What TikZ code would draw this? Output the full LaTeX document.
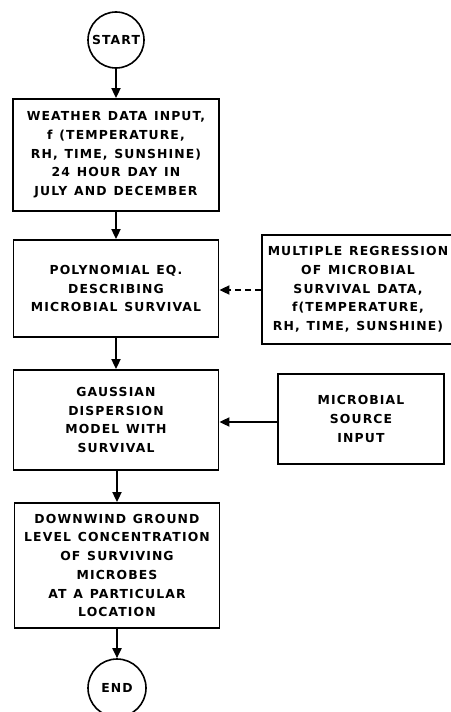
\documentclass[tikz,border=0pt]{standalone}
\usepackage{fontspec}
\setmainfont{DejaVu Sans}[LetterSpace=9,WordSpace=1.25]
\usetikzlibrary{arrows.meta}
\begin{document}
\begin{tikzpicture}[x=1pt,y=-1pt,
  lbl/.style={font=\bfseries\fontsize{12.4}{18.7}\selectfont, align=center},
  box/.style={draw, line width=1.8pt, rectangle, inner sep=0pt, lbl},
  term/.style={draw, line width=1.6pt, circle, inner sep=0pt, lbl},
  arr/.style={line width=1.8pt, -{Triangle[length=10pt,width=9pt]}},
  darr/.style={arr, dash pattern=on 6pt off 4pt}]
\useasboundingbox (0,0) rectangle (450,712);
\fill[white] (0,0) rectangle (450,712);
\node[term, minimum size=56pt] (start) at (116,40) {START};
\node[box, minimum width=206pt, minimum height=112pt] (b1) at (116,155)
  {WEATHER DATA INPUT,\\ f (TEMPERATURE,\\ RH, TIME, SUNSHINE)\\ 24 HOUR DAY IN\\ JULY AND DECEMBER};
\node[box, minimum width=205pt, minimum height=97pt] (b2) at (116,288.5)
  {POLYNOMIAL EQ.\\ DESCRIBING\\ MICROBIAL SURVIVAL};
\node[box, minimum width=192pt, minimum height=109pt] (r1) at (358,289.5)
  {MULTIPLE REGRESSION\\ OF MICROBIAL\\ SURVIVAL DATA,\\ f(TEMPERATURE,\\ RH, TIME, SUNSHINE)};
\node[box, minimum width=205pt, minimum height=100pt] (b3) at (116,420)
  {GAUSSIAN\\ DISPERSION\\ MODEL WITH\\ SURVIVAL};
\node[box, minimum width=166pt, minimum height=90pt] (r2) at (361,419)
  {MICROBIAL\\ SOURCE\\ INPUT};
\node[box, minimum width=205pt, minimum height=125pt] (b4) at (117,565.5)
  {DOWNWIND GROUND\\ LEVEL CONCENTRATION\\ OF SURVIVING\\ MICROBES\\ AT A PARTICULAR\\ LOCATION};
\node[term, minimum size=58pt] (end) at (117,688) {END};
\draw[arr] (start) -- (b1);
\draw[arr] (b1) -- (b2);
\draw[arr] (b2) -- (b3);
\draw[arr] (b3.south -| b4) -- (b4);
\draw[arr] (b4) -- (end);
\draw[darr] (r1.west |- 0,290) -- (b2.east |- 0,290);
\draw[arr] (r2.west |- 0,422) -- (b3.east |- 0,422);
\end{tikzpicture}
\end{document}
